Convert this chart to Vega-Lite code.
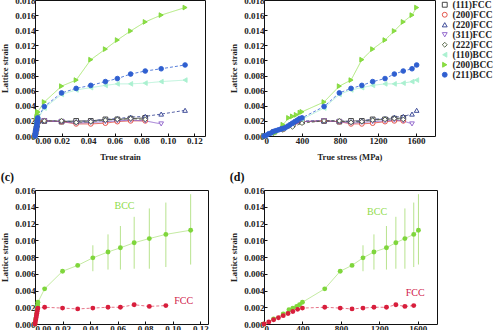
{
  "$schema": "https://vega.github.io/schema/vega-lite/v6.json",
  "padding": {"left": 0, "top": -5, "right": 0, "bottom": 0},
  "background": "white",
  "datasets": {
    "lat": [
      {"s": "(111)FCC", "e": 0, "p": 0, "v": 0},
      {"s": "(111)FCC", "e": 0.00053, "p": 100, "v": 0.0005},
      {"s": "(111)FCC", "e": 0.00105, "p": 200, "v": 0.001},
      {"s": "(111)FCC", "e": 0.00158, "p": 300, "v": 0.0015},
      {"s": "(111)FCC", "e": 0.0021, "p": 400, "v": 0.0019},
      {"s": "(111)FCC", "e": 0.007, "p": 632, "v": 0.002},
      {"s": "(111)FCC", "e": 0.02, "p": 793, "v": 0.0019},
      {"s": "(111)FCC", "e": 0.031, "p": 916, "v": 0.002},
      {"s": "(111)FCC", "e": 0.042, "p": 1030, "v": 0.002},
      {"s": "(111)FCC", "e": 0.053, "p": 1144, "v": 0.0022},
      {"s": "(111)FCC", "e": 0.062, "p": 1274, "v": 0.0022},
      {"s": "(111)FCC", "e": 0.072, "p": 1372, "v": 0.0023},
      {"s": "(111)FCC", "e": 0.083, "p": 1466, "v": 0.0024},
      {"s": "(200)FCC", "e": 0, "p": 0, "v": 0},
      {"s": "(200)FCC", "e": 0.00053, "p": 100, "v": 0.0005},
      {"s": "(200)FCC", "e": 0.00105, "p": 200, "v": 0.0009},
      {"s": "(200)FCC", "e": 0.00158, "p": 300, "v": 0.0014},
      {"s": "(200)FCC", "e": 0.0021, "p": 400, "v": 0.0019},
      {"s": "(200)FCC", "e": 0.007, "p": 632, "v": 0.002},
      {"s": "(200)FCC", "e": 0.02, "p": 793, "v": 0.0019},
      {"s": "(200)FCC", "e": 0.031, "p": 916, "v": 0.0016},
      {"s": "(200)FCC", "e": 0.042, "p": 1030, "v": 0.0016},
      {"s": "(200)FCC", "e": 0.053, "p": 1144, "v": 0.0017},
      {"s": "(200)FCC", "e": 0.062, "p": 1274, "v": 0.0019},
      {"s": "(200)FCC", "e": 0.072, "p": 1372, "v": 0.002},
      {"s": "(200)FCC", "e": 0.083, "p": 1466, "v": 0.002},
      {"s": "(220)FCC", "e": 0, "p": 0, "v": 0},
      {"s": "(220)FCC", "e": 0.00053, "p": 100, "v": 0.0005},
      {"s": "(220)FCC", "e": 0.00105, "p": 200, "v": 0.001},
      {"s": "(220)FCC", "e": 0.00158, "p": 300, "v": 0.0015},
      {"s": "(220)FCC", "e": 0.0021, "p": 400, "v": 0.002},
      {"s": "(220)FCC", "e": 0.007, "p": 632, "v": 0.002},
      {"s": "(220)FCC", "e": 0.02, "p": 793, "v": 0.002},
      {"s": "(220)FCC", "e": 0.031, "p": 916, "v": 0.0019},
      {"s": "(220)FCC", "e": 0.042, "p": 1030, "v": 0.002},
      {"s": "(220)FCC", "e": 0.053, "p": 1144, "v": 0.0022},
      {"s": "(220)FCC", "e": 0.062, "p": 1274, "v": 0.0023},
      {"s": "(220)FCC", "e": 0.072, "p": 1372, "v": 0.0025},
      {"s": "(220)FCC", "e": 0.083, "p": 1466, "v": 0.0026},
      {"s": "(220)FCC", "e": 0.095, "p": 1558, "v": 0.0029},
      {"s": "(220)FCC", "e": 0.113, "p": 1607, "v": 0.0034},
      {"s": "(311)FCC", "e": 0, "p": 0, "v": 0},
      {"s": "(311)FCC", "e": 0.00053, "p": 100, "v": 0.0005},
      {"s": "(311)FCC", "e": 0.00105, "p": 200, "v": 0.001},
      {"s": "(311)FCC", "e": 0.00158, "p": 300, "v": 0.0014},
      {"s": "(311)FCC", "e": 0.0021, "p": 400, "v": 0.0019},
      {"s": "(311)FCC", "e": 0.007, "p": 632, "v": 0.002},
      {"s": "(311)FCC", "e": 0.02, "p": 793, "v": 0.0019},
      {"s": "(311)FCC", "e": 0.031, "p": 916, "v": 0.0017},
      {"s": "(311)FCC", "e": 0.042, "p": 1030, "v": 0.0018},
      {"s": "(311)FCC", "e": 0.053, "p": 1144, "v": 0.0019},
      {"s": "(311)FCC", "e": 0.062, "p": 1274, "v": 0.002},
      {"s": "(311)FCC", "e": 0.072, "p": 1372, "v": 0.0021},
      {"s": "(311)FCC", "e": 0.083, "p": 1466, "v": 0.002},
      {"s": "(311)FCC", "e": 0.095, "p": 1558, "v": 0.0016},
      {"s": "(222)FCC", "e": 0, "p": 0, "v": 0},
      {"s": "(222)FCC", "e": 0.00053, "p": 100, "v": 0.0004},
      {"s": "(222)FCC", "e": 0.00105, "p": 200, "v": 0.0008},
      {"s": "(222)FCC", "e": 0.00158, "p": 300, "v": 0.0012},
      {"s": "(222)FCC", "e": 0.0021, "p": 400, "v": 0.0017},
      {"s": "(222)FCC", "e": 0.007, "p": 632, "v": 0.002},
      {"s": "(222)FCC", "e": 0.02, "p": 793, "v": 0.002},
      {"s": "(222)FCC", "e": 0.031, "p": 916, "v": 0.0018},
      {"s": "(222)FCC", "e": 0.042, "p": 1030, "v": 0.0019},
      {"s": "(222)FCC", "e": 0.053, "p": 1144, "v": 0.0021},
      {"s": "(222)FCC", "e": 0.062, "p": 1274, "v": 0.0022},
      {"s": "(222)FCC", "e": 0.072, "p": 1372, "v": 0.0023},
      {"s": "(222)FCC", "e": 0.083, "p": 1466, "v": 0.0022},
      {"s": "(110)BCC", "e": 0, "p": 0, "v": 0},
      {"s": "(110)BCC", "e": 0.00053, "p": 100, "v": 0.0005},
      {"s": "(110)BCC", "e": 0.00105, "p": 200, "v": 0.001},
      {"s": "(110)BCC", "e": 0.00158, "p": 300, "v": 0.0017},
      {"s": "(110)BCC", "e": 0.0021, "p": 400, "v": 0.0022},
      {"s": "(110)BCC", "e": 0.007, "p": 632, "v": 0.0037},
      {"s": "(110)BCC", "e": 0.02, "p": 793, "v": 0.0055},
      {"s": "(110)BCC", "e": 0.031, "p": 916, "v": 0.0061},
      {"s": "(110)BCC", "e": 0.042, "p": 1030, "v": 0.0064},
      {"s": "(110)BCC", "e": 0.053, "p": 1144, "v": 0.0067},
      {"s": "(110)BCC", "e": 0.062, "p": 1274, "v": 0.0069},
      {"s": "(110)BCC", "e": 0.072, "p": 1372, "v": 0.0069},
      {"s": "(110)BCC", "e": 0.083, "p": 1466, "v": 0.007},
      {"s": "(110)BCC", "e": 0.095, "p": 1558, "v": 0.0072},
      {"s": "(110)BCC", "e": 0.113, "p": 1607, "v": 0.0074},
      {"s": "(200)BCC", "e": 0, "p": 0, "v": 0},
      {"s": "(200)BCC", "e": 0.00063, "p": 120, "v": 0.0004},
      {"s": "(200)BCC", "e": 0.00105, "p": 200, "v": 0.0015},
      {"s": "(200)BCC", "e": 0.00137, "p": 260, "v": 0.0024},
      {"s": "(200)BCC", "e": 0.00158, "p": 300, "v": 0.0026},
      {"s": "(200)BCC", "e": 0.00179, "p": 340, "v": 0.0028},
      {"s": "(200)BCC", "e": 0.002, "p": 380, "v": 0.0031},
      {"s": "(200)BCC", "e": 0.0021, "p": 400, "v": 0.0032},
      {"s": "(200)BCC", "e": 0.007, "p": 632, "v": 0.0045},
      {"s": "(200)BCC", "e": 0.02, "p": 793, "v": 0.0066},
      {"s": "(200)BCC", "e": 0.031, "p": 916, "v": 0.0074},
      {"s": "(200)BCC", "e": 0.042, "p": 1030, "v": 0.0101},
      {"s": "(200)BCC", "e": 0.053, "p": 1144, "v": 0.0115},
      {"s": "(200)BCC", "e": 0.062, "p": 1274, "v": 0.0127},
      {"s": "(200)BCC", "e": 0.072, "p": 1372, "v": 0.0139},
      {"s": "(200)BCC", "e": 0.083, "p": 1466, "v": 0.0151},
      {"s": "(200)BCC", "e": 0.095, "p": 1558, "v": 0.016},
      {"s": "(200)BCC", "e": 0.113, "p": 1607, "v": 0.017},
      {"s": "(211)BCC", "e": 0, "p": 0, "v": 0},
      {"s": "(211)BCC", "e": 0.00013, "p": 25, "v": 0.0001},
      {"s": "(211)BCC", "e": 0.00026, "p": 50, "v": 0.0003},
      {"s": "(211)BCC", "e": 0.00039, "p": 75, "v": 0.0004},
      {"s": "(211)BCC", "e": 0.00053, "p": 100, "v": 0.0006},
      {"s": "(211)BCC", "e": 0.00066, "p": 125, "v": 0.0007},
      {"s": "(211)BCC", "e": 0.00079, "p": 150, "v": 0.0008},
      {"s": "(211)BCC", "e": 0.00092, "p": 175, "v": 0.0009},
      {"s": "(211)BCC", "e": 0.00105, "p": 200, "v": 0.001},
      {"s": "(211)BCC", "e": 0.00118, "p": 225, "v": 0.0011},
      {"s": "(211)BCC", "e": 0.00132, "p": 250, "v": 0.0013},
      {"s": "(211)BCC", "e": 0.00145, "p": 275, "v": 0.0015},
      {"s": "(211)BCC", "e": 0.00158, "p": 300, "v": 0.0017},
      {"s": "(211)BCC", "e": 0.00171, "p": 325, "v": 0.0019},
      {"s": "(211)BCC", "e": 0.00184, "p": 350, "v": 0.0021},
      {"s": "(211)BCC", "e": 0.00197, "p": 375, "v": 0.0023},
      {"s": "(211)BCC", "e": 0.0021, "p": 400, "v": 0.0024},
      {"s": "(211)BCC", "e": 0.007, "p": 632, "v": 0.0039},
      {"s": "(211)BCC", "e": 0.02, "p": 793, "v": 0.0057},
      {"s": "(211)BCC", "e": 0.031, "p": 916, "v": 0.0063},
      {"s": "(211)BCC", "e": 0.042, "p": 1030, "v": 0.0067},
      {"s": "(211)BCC", "e": 0.053, "p": 1144, "v": 0.0072},
      {"s": "(211)BCC", "e": 0.062, "p": 1274, "v": 0.0076},
      {"s": "(211)BCC", "e": 0.072, "p": 1372, "v": 0.0082},
      {"s": "(211)BCC", "e": 0.083, "p": 1466, "v": 0.0086},
      {"s": "(211)BCC", "e": 0.095, "p": 1558, "v": 0.0089},
      {"s": "(211)BCC", "e": 0.113, "p": 1607, "v": 0.0094}
    ],
    "avg": [
      {"s": "BCC", "e": 0, "p": 0, "v": 0},
      {"s": "BCC", "e": 0.00053, "p": 100, "v": 0.0006},
      {"s": "BCC", "e": 0.00105, "p": 200, "v": 0.0012},
      {"s": "BCC", "e": 0.00137, "p": 260, "v": 0.0017},
      {"s": "BCC", "e": 0.00158, "p": 300, "v": 0.0019},
      {"s": "BCC", "e": 0.00179, "p": 340, "v": 0.0021},
      {"s": "BCC", "e": 0.00195, "p": 370, "v": 0.0023},
      {"s": "BCC", "e": 0.0021, "p": 400, "v": 0.0026},
      {"s": "BCC", "e": 0.007, "p": 632, "v": 0.0042},
      {"s": "BCC", "e": 0.02, "p": 793, "v": 0.0063},
      {"s": "BCC", "e": 0.031, "p": 916, "v": 0.007},
      {"s": "BCC", "e": 0.042, "p": 1030, "v": 0.0079, "lo": 0.0063, "hi": 0.0094},
      {"s": "BCC", "e": 0.053, "p": 1144, "v": 0.0086, "lo": 0.0065, "hi": 0.0107},
      {"s": "BCC", "e": 0.062, "p": 1274, "v": 0.0091, "lo": 0.0065, "hi": 0.0117},
      {"s": "BCC", "e": 0.072, "p": 1372, "v": 0.0097, "lo": 0.0066, "hi": 0.0128},
      {"s": "BCC", "e": 0.083, "p": 1466, "v": 0.0102, "lo": 0.0066, "hi": 0.0138},
      {"s": "BCC", "e": 0.095, "p": 1558, "v": 0.0107, "lo": 0.0068, "hi": 0.0145},
      {"s": "BCC", "e": 0.113, "p": 1607, "v": 0.0112, "lo": 0.0071, "hi": 0.0155},
      {"s": "FCC", "e": 0, "p": 0, "v": 0},
      {"s": "FCC", "e": 0.00026, "p": 50, "v": 0.00025},
      {"s": "FCC", "e": 0.00053, "p": 100, "v": 0.0005},
      {"s": "FCC", "e": 0.00079, "p": 150, "v": 0.00075},
      {"s": "FCC", "e": 0.00105, "p": 200, "v": 0.001},
      {"s": "FCC", "e": 0.00132, "p": 250, "v": 0.00125},
      {"s": "FCC", "e": 0.00158, "p": 300, "v": 0.0015},
      {"s": "FCC", "e": 0.00184, "p": 350, "v": 0.00175},
      {"s": "FCC", "e": 0.0021, "p": 400, "v": 0.0019},
      {"s": "FCC", "e": 0.007, "p": 632, "v": 0.002},
      {"s": "FCC", "e": 0.02, "p": 793, "v": 0.0019},
      {"s": "FCC", "e": 0.031, "p": 916, "v": 0.0018},
      {"s": "FCC", "e": 0.042, "p": 1030, "v": 0.0019},
      {"s": "FCC", "e": 0.053, "p": 1144, "v": 0.002},
      {"s": "FCC", "e": 0.062, "p": 1274, "v": 0.002},
      {"s": "FCC", "e": 0.072, "p": 1372, "v": 0.0023},
      {"s": "FCC", "e": 0.083, "p": 1466, "v": 0.0021},
      {"s": "FCC", "e": 0.095, "p": 1558, "v": 0.0022}
    ],
    "tags": [
      {"t": "BCC", "e": 0.065, "p": 1177, "vc": 0.0141, "vd": 0.0134},
      {"t": "FCC", "e": 0.108, "p": 1573, "vc": 0.0027, "vd": 0.0037}
    ]
  },
  "columns": 2,
  "spacing": {"row": 9, "column": 20},
  "concat": [
    {
      "width": 170, "height": 136,
      "data": {"name": "lat"},
      "encoding": {
        "x": {"field": "e", "type": "quantitative", "scale": {"domain": [0, 0.128], "nice": false},
              "axis": {"values": [0, 0.02, 0.04, 0.06, 0.08, 0.1, 0.12], "format": ".2f", "title": "True strain", "titlePadding": 7}},
        "y": {"field": "v", "type": "quantitative", "scale": {"domain": [0, 0.018], "nice": false},
              "axis": {"values": [0, 0.002, 0.004, 0.006, 0.008, 0.01, 0.012, 0.014, 0.016, 0.018], "format": ".3f", "title": "Lattice strain"}}
      },
      "layer": [
        {"mark": {"type": "line", "strokeWidth": 0.8},
         "encoding": {
           "color": {"field": "s", "type": "nominal", "legend": null,
             "scale": {"range": ["#aaf0d0", "#333333", "#9be35a", "#e0453a", "#2f5fd0", "#2d3b8f", "#4a5a3a", "#8a5cc8"]}},
           "strokeDash": {"field": "s", "type": "nominal", "legend": null,
             "scale": {"range": [[1, 0], [1, 0], [1, 0], [1, 0], [3, 2], [3, 2], [3, 2], [1, 0]]}},
           "order": {"field": "p", "type": "quantitative"}
         }},
        {"mark": {"type": "point", "size": 22, "strokeWidth": 0.9, "opacity": 1, "filled": false},
         "encoding": {
           "shape": {"field": "s", "type": "nominal",
             "legend": {"title": null, "orient": "right", "offset": 2, "padding": 0, "labelFont": "Liberation Serif", "labelFontWeight": "bold", "labelFontSize": 9.5, "labelColor": "#222", "symbolSize": 24, "symbolStrokeWidth": 0.9, "rowPadding": -1.4, "labelOffset": 3},
             "scale": {"domain": ["(111)FCC", "(200)FCC", "(220)FCC", "(311)FCC", "(222)FCC", "(110)BCC", "(200)BCC", "(211)BCC"],
                       "range": ["square", "circle", "triangle-up", "triangle-down", "diamond", "triangle-left", "triangle-right", "circle"]}},
           "stroke": {"field": "s", "type": "nominal",
             "legend": {"title": null, "orient": "right", "offset": 2, "padding": 0, "labelFont": "Liberation Serif", "labelFontWeight": "bold", "labelFontSize": 9.5, "labelColor": "#222", "symbolSize": 24, "symbolStrokeWidth": 0.9, "rowPadding": -1.4, "labelOffset": 3},
             "scale": {"domain": ["(111)FCC", "(200)FCC", "(220)FCC", "(311)FCC", "(222)FCC", "(110)BCC", "(200)BCC", "(211)BCC"],
                       "range": ["#333333", "#e0453a", "#2d3b8f", "#8a5cc8", "#4a5a3a", "#aaf0d0", "#7fd63c", "#2f5fd0"]}},
           "fill": {"field": "s", "type": "nominal",
             "legend": {"title": null, "orient": "right", "offset": 2, "padding": 0, "labelFont": "Liberation Serif", "labelFontWeight": "bold", "labelFontSize": 9.5, "labelColor": "#222", "symbolSize": 24, "symbolStrokeWidth": 0.9, "rowPadding": -1.4, "labelOffset": 3},
             "scale": {"domain": ["(111)FCC", "(200)FCC", "(220)FCC", "(311)FCC", "(222)FCC", "(110)BCC", "(200)BCC", "(211)BCC"],
                       "range": ["white", "white", "white", "white", "white", "#aaf0d0", "#8ee040", "#2f5fd0"]}}
         }}
      ]
    },
    {
      "width": 171, "height": 136,
      "data": {"name": "lat"},
      "encoding": {
        "x": {"field": "p", "type": "quantitative", "scale": {"domain": [0, 1800], "nice": false},
              "axis": {"values": [0, 400, 800, 1200, 1600], "format": "d", "title": "True stress (MPa)", "titlePadding": 7}},
        "y": {"field": "v", "type": "quantitative", "scale": {"domain": [0, 0.018], "nice": false},
              "axis": {"values": [0, 0.002, 0.004, 0.006, 0.008, 0.01, 0.012, 0.014, 0.016, 0.018], "format": ".3f", "title": "Lattice strain"}}
      },
      "layer": [
        {"mark": {"type": "line", "strokeWidth": 0.8},
         "encoding": {
           "color": {"field": "s", "type": "nominal", "legend": null,
             "scale": {"range": ["#aaf0d0", "#333333", "#9be35a", "#e0453a", "#2f5fd0", "#2d3b8f", "#4a5a3a", "#8a5cc8"]}},
           "strokeDash": {"field": "s", "type": "nominal", "legend": null,
             "scale": {"range": [[1, 0], [1, 0], [1, 0], [1, 0], [3, 2], [3, 2], [3, 2], [1, 0]]}},
           "order": {"field": "p", "type": "quantitative"}
         }},
        {"mark": {"type": "point", "size": 22, "strokeWidth": 0.9, "opacity": 1, "filled": false},
         "encoding": {
           "shape": {"field": "s", "type": "nominal",
             "legend": {"title": null, "orient": "right", "offset": 2, "padding": 0, "labelFont": "Liberation Serif", "labelFontWeight": "bold", "labelFontSize": 9.5, "labelColor": "#222", "symbolSize": 24, "symbolStrokeWidth": 0.9, "rowPadding": -1.4, "labelOffset": 3},
             "scale": {"domain": ["(111)FCC", "(200)FCC", "(220)FCC", "(311)FCC", "(222)FCC", "(110)BCC", "(200)BCC", "(211)BCC"],
                       "range": ["square", "circle", "triangle-up", "triangle-down", "diamond", "triangle-left", "triangle-right", "circle"]}},
           "stroke": {"field": "s", "type": "nominal",
             "legend": {"title": null, "orient": "right", "offset": 2, "padding": 0, "labelFont": "Liberation Serif", "labelFontWeight": "bold", "labelFontSize": 9.5, "labelColor": "#222", "symbolSize": 24, "symbolStrokeWidth": 0.9, "rowPadding": -1.4, "labelOffset": 3},
             "scale": {"domain": ["(111)FCC", "(200)FCC", "(220)FCC", "(311)FCC", "(222)FCC", "(110)BCC", "(200)BCC", "(211)BCC"],
                       "range": ["#333333", "#e0453a", "#2d3b8f", "#8a5cc8", "#4a5a3a", "#aaf0d0", "#7fd63c", "#2f5fd0"]}},
           "fill": {"field": "s", "type": "nominal",
             "legend": {"title": null, "orient": "right", "offset": 2, "padding": 0, "labelFont": "Liberation Serif", "labelFontWeight": "bold", "labelFontSize": 9.5, "labelColor": "#222", "symbolSize": 24, "symbolStrokeWidth": 0.9, "rowPadding": -1.4, "labelOffset": 3},
             "scale": {"domain": ["(111)FCC", "(200)FCC", "(220)FCC", "(311)FCC", "(222)FCC", "(110)BCC", "(200)BCC", "(211)BCC"],
                       "range": ["white", "white", "white", "white", "white", "#aaf0d0", "#8ee040", "#2f5fd0"]}}
         }}
      ]
    },
    {
      "title": {"text": "(c)", "anchor": "start", "frame": "bounds", "fontSize": 12, "font": "Liberation Serif", "fontWeight": "bold", "offset": 2, "color": "#111"},
      "width": 173, "height": 134,
      "encoding": {
        "x": {"field": "e", "type": "quantitative", "scale": {"domain": [0, 0.1256], "nice": false},
              "axis": {"values": [0, 0.02, 0.04, 0.06, 0.08, 0.1, 0.12], "format": ".2f", "title": "True strain"}},
        "y": {"field": "v", "type": "quantitative", "scale": {"domain": [0, 0.016], "nice": false},
              "axis": {"values": [0, 0.002, 0.004, 0.006, 0.008, 0.01, 0.012, 0.014, 0.016], "format": ".3f", "title": "Lattice strain"}}
      },
      "layer": [
        {"data": {"name": "avg"}, "transform": [{"filter": "isValid(datum.lo)"}],
         "mark": {"type": "rule", "color": "#b8e38e", "strokeWidth": 1},
         "encoding": {"y": {"field": "lo", "type": "quantitative"}, "y2": {"field": "hi"}}},
        {"data": {"name": "avg"}, "transform": [{"filter": "datum.s == 'BCC'"}],
         "mark": {"type": "line", "color": "#b5e58a", "strokeWidth": 0.8}, "encoding": {"order": {"field": "p", "type": "quantitative"}}},
        {"data": {"name": "avg"}, "transform": [{"filter": "datum.s == 'FCC'"}],
         "mark": {"type": "line", "color": "#e0506a", "strokeWidth": 0.8, "strokeDash": [3, 2]}, "encoding": {"order": {"field": "p", "type": "quantitative"}}},
        {"data": {"name": "avg"}, "transform": [{"filter": "datum.s == 'BCC'"}],
         "mark": {"type": "circle", "size": 24, "color": "#7fd63c", "opacity": 1}, "encoding": {}},
        {"data": {"name": "avg"}, "transform": [{"filter": "datum.s == 'FCC'"}],
         "mark": {"type": "circle", "size": 24, "color": "#d81e3c", "opacity": 1}, "encoding": {}},
        {"data": {"name": "tags"}, "transform": [{"filter": "datum.t == 'BCC'"}],
         "mark": {"type": "text", "font": "Liberation Serif", "fontSize": 10, "color": "#8fdb4a"},
         "encoding": {"y": {"field": "vc", "type": "quantitative"}, "text": {"field": "t"}}},
        {"data": {"name": "tags"}, "transform": [{"filter": "datum.t == 'FCC'"}],
         "mark": {"type": "text", "font": "Liberation Serif", "fontSize": 10, "color": "#d0204a"},
         "encoding": {"y": {"field": "vc", "type": "quantitative"}, "text": {"field": "t"}}}
      ]
    },
    {
      "title": {"text": "(d)", "anchor": "start", "frame": "bounds", "fontSize": 12, "font": "Liberation Serif", "fontWeight": "bold", "offset": 2, "color": "#111"},
      "width": 173, "height": 134,
      "encoding": {
        "x": {"field": "p", "type": "quantitative", "scale": {"domain": [0, 1800], "nice": false},
              "axis": {"values": [0, 400, 800, 1200, 1600], "format": "d", "title": "True stress (MPa)"}},
        "y": {"field": "v", "type": "quantitative", "scale": {"domain": [0, 0.016], "nice": false},
              "axis": {"values": [0, 0.002, 0.004, 0.006, 0.008, 0.01, 0.012, 0.014, 0.016], "format": ".3f", "title": "Lattice strain"}}
      },
      "layer": [
        {"data": {"name": "avg"}, "transform": [{"filter": "isValid(datum.lo)"}],
         "mark": {"type": "rule", "color": "#b8e38e", "strokeWidth": 1},
         "encoding": {"y": {"field": "lo", "type": "quantitative"}, "y2": {"field": "hi"}}},
        {"data": {"name": "avg"}, "transform": [{"filter": "datum.s == 'BCC'"}],
         "mark": {"type": "line", "color": "#b5e58a", "strokeWidth": 0.8}, "encoding": {"order": {"field": "p", "type": "quantitative"}}},
        {"data": {"name": "avg"}, "transform": [{"filter": "datum.s == 'FCC'"}],
         "mark": {"type": "line", "color": "#e0506a", "strokeWidth": 0.8, "strokeDash": [3, 2]}, "encoding": {"order": {"field": "p", "type": "quantitative"}}},
        {"data": {"name": "avg"}, "transform": [{"filter": "datum.s == 'BCC'"}],
         "mark": {"type": "circle", "size": 24, "color": "#7fd63c", "opacity": 1}, "encoding": {}},
        {"data": {"name": "avg"}, "transform": [{"filter": "datum.s == 'FCC'"}],
         "mark": {"type": "circle", "size": 24, "color": "#d81e3c", "opacity": 1}, "encoding": {}},
        {"data": {"name": "tags"}, "transform": [{"filter": "datum.t == 'BCC'"}],
         "mark": {"type": "text", "font": "Liberation Serif", "fontSize": 10, "color": "#8fdb4a"},
         "encoding": {"y": {"field": "vd", "type": "quantitative"}, "text": {"field": "t"}}},
        {"data": {"name": "tags"}, "transform": [{"filter": "datum.t == 'FCC'"}],
         "mark": {"type": "text", "font": "Liberation Serif", "fontSize": 10, "color": "#d0204a"},
         "encoding": {"y": {"field": "vd", "type": "quantitative"}, "text": {"field": "t"}}}
      ]
    }
  ],
  "config": {
    "font": "Liberation Serif",
    "view": {"stroke": "#111", "strokeWidth": 1},
    "axis": {
      "labelFont": "Liberation Serif", "labelFontWeight": "bold", "labelFontSize": 9, "labelColor": "#222",
      "titleFont": "Liberation Serif", "titleFontWeight": "bold", "titleFontSize": 8.5, "titleColor": "#222",
      "grid": false, "domain": false, "tickColor": "#111", "tickSize": -3, "labelPadding": 3, "titlePadding": 5
    }
  }
}
